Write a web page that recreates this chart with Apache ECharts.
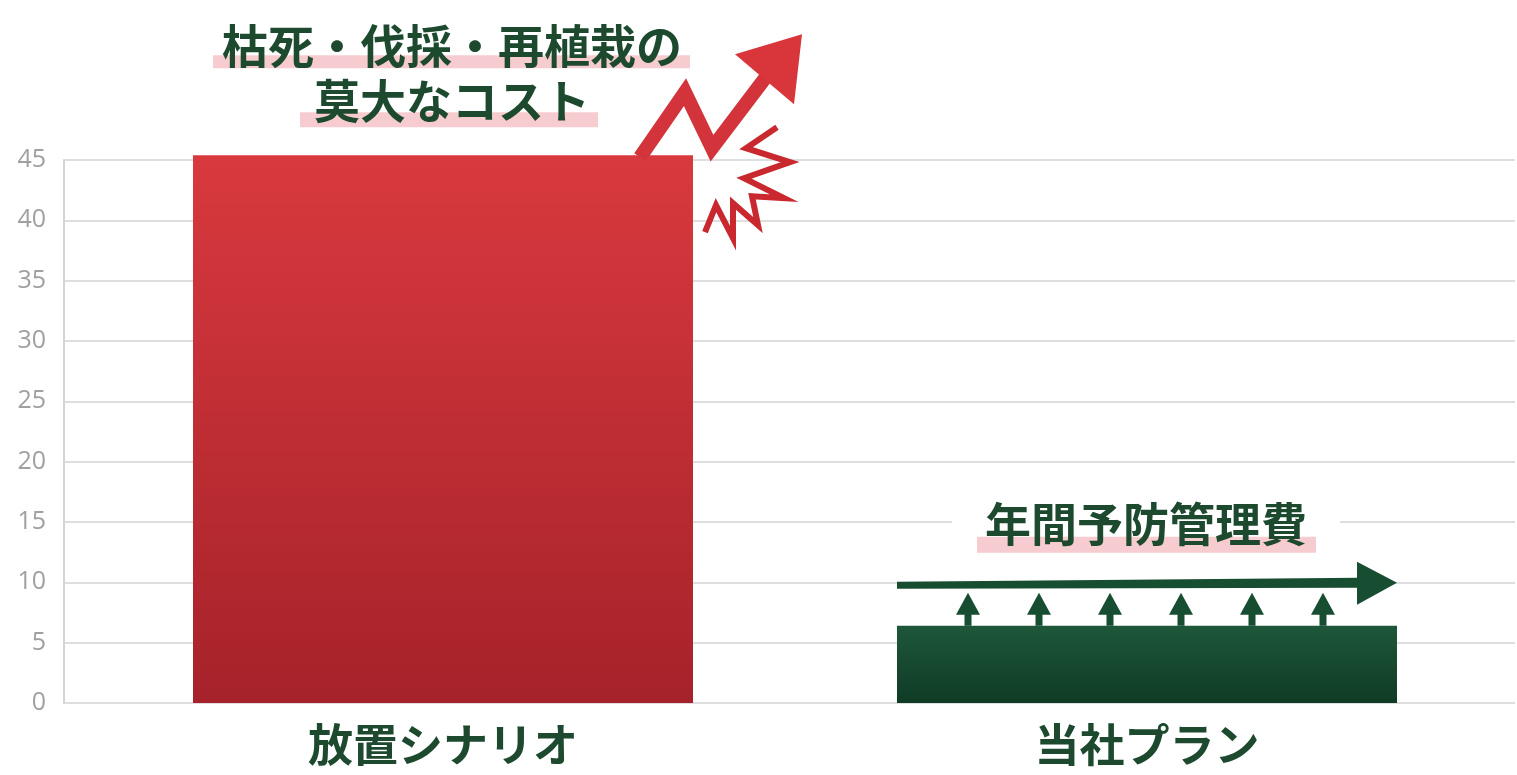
<!DOCTYPE html>
<html><head><meta charset="utf-8">
<script src="https://cdn.jsdelivr.net/npm/echarts@6/dist/echarts.min.js"></script>
<style>html,body{margin:0;padding:0;background:#fff}#c{width:1517px;height:775px}</style>
</head><body><div id="c"></div>
<script>
const categories = ['放置シナリオ', '当社プラン'];
const costValues = [45.4, 6.4];
const yTickLabels = ['0', '5', '10', '15', '20', '25', '30', '35', '40', '45'];
const topNoteLines = ['枯死・伐採・再植栽の', '莫大なコスト'];
const planNote = '年間予防管理費';

const GREEN_TEXT = '#1d4a2f';
const FONT = '"Noto Sans CJK JP", "Noto Sans", sans-serif';
const chart = echarts.init(document.getElementById('c'), null, {renderer: 'canvas'});

const redGrad = new echarts.graphic.LinearGradient(0, 0, 0, 1, [{offset: 0, color: '#d8393e'}, {offset: 1, color: '#a6222a'}]);
const greenGrad = new echarts.graphic.LinearGradient(0, 0, 0, 1, [{offset: 0, color: '#1e5739'}, {offset: 1, color: '#0f3b25'}]);

chart.setOption({
  animation: false,
  backgroundColor: '#fff',
  grid: [
    {left: 64, right: 2, top: 160, bottom: 72},
    {left: 91, width: 1408, top: 160, bottom: 72}
  ],
  xAxis: [
    {type: 'value', gridIndex: 0, show: false, min: 0, max: 1},
    {type: 'category', gridIndex: 1, data: categories,
     axisLine: {show: false}, axisTick: {show: false}, splitLine: {show: false},
     axisLabel: {fontSize: 45, fontWeight: 'bold', fontFamily: FONT, color: GREEN_TEXT, margin: 19}}
  ],
  yAxis: [
    {type: 'value', gridIndex: 0, min: 0, max: 45, interval: 5,
     axisLine: {show: true, lineStyle: {color: '#d4d4d4', width: 2}},
     axisTick: {show: false},
     splitLine: {show: true, lineStyle: {color: '#dedede', width: 2}},
     axisLabel: {color: '#a0a0a0', fontSize: 25, fontFamily: '"Open Sans", sans-serif', margin: 18,
       formatter: v => yTickLabels[Math.round(v / 5)] ?? ''}},
    {type: 'value', gridIndex: 1, min: 0, max: 45, interval: 5, show: false}
  ],
  series: [{
    type: 'bar', xAxisIndex: 1, yAxisIndex: 1, barWidth: 500, clip: false,
    data: costValues.map((v, i) => ({value: v, itemStyle: {color: i === 0 ? redGrad : greenGrad}}))
  }]
});

// anchors from data
const p1 = chart.convertToPixel({xAxisIndex: 1, yAxisIndex: 1}, [0, costValues[0]]);
const p2 = chart.convertToPixel({xAxisIndex: 1, yAxisIndex: 1}, [1, costValues[1]]);
const half = 250;
const A = [p1[0] + half, p1[1]]; // top-right of bar 1
const B = [p2[0] - half, p2[1]]; // top-left of bar 2
const rel = (o, pts) => pts.map(p => [o[0] + p[0], o[1] + p[1]]);

const g = [];
// highlight bands
g.push({type: 'rect', z: 50, shape: {x: p1[0] - 230, y: p1[1] - 100, width: 477, height: 13}, style: {fill: 'rgba(240,170,176,0.6)'}});
g.push({type: 'rect', z: 50, shape: {x: p1[0] - 143, y: p1[1] - 43, width: 298, height: 15}, style: {fill: 'rgba(240,170,176,0.6)'}});
// white knock-out behind plan note
g.push({type: 'rect', z: 49, shape: {x: p2[0] - 195, y: p2[1] - 118, width: 388, height: 36}, style: {fill: '#fff'}});
g.push({type: 'rect', z: 50, shape: {x: p2[0] - 170, y: p2[1] - 89, width: 339, height: 16}, style: {fill: 'rgba(240,170,176,0.6)'}});
// texts
topNoteLines.forEach((t, i) => {
  g.push({type: 'text', z: 60, style: {text: t, x: p1[0] + 9, y: p1[1] - 110 + i * 55, align: 'center', verticalAlign: 'middle',
    fontSize: 46, fontWeight: 'bold', fontFamily: FONT, fill: GREEN_TEXT}});
});
g.push({type: 'text', z: 60, style: {text: planNote, x: p2[0] - 1, y: p2[1] - 102, align: 'center', verticalAlign: 'middle',
  fontSize: 46, fontWeight: 'bold', fontFamily: FONT, fill: GREEN_TEXT}});

// red zigzag arrow
g.push({type: 'polyline', z: 55, shape: {points: rel(A, [[-53, 2], [-8, -63], [19, -7], [72, -77]])},
  style: {stroke: '#d3333a', lineWidth: 14, lineJoin: 'miter', fill: null}});
g.push({type: 'polygon', z: 55, shape: {points: rel(A, [[109, -121], [42, -101], [101, -51]])},
  style: {fill: '#d8363b'}});
// burst
g.push({type: 'polyline', z: 55, shape: {points: rel(A, [[84, -28], [53, -7], [97, 7], [51, 23], [91, 43], [59, 41], [65, 70], [40, 48], [40, 83], [23, 50], [12, 77]])},
  style: {stroke: '#c9282f', lineWidth: 6, lineJoin: 'miter', fill: null}});

// green long arrow
g.push({type: 'polygon', z: 55, shape: {points: rel(B, [[0, -44], [463, -48], [463, -38], [0, -37]])}, style: {fill: '#174d30'}});
g.push({type: 'polygon', z: 55, shape: {points: rel(B, [[460, -64], [500, -43], [460, -21]])}, style: {fill: '#174d30'}});
// small up arrows
for (let i = 1; i <= 6; i++) {
  const cx = B[0] + 71 * i;
  g.push({type: 'rect', z: 55, shape: {x: cx - 3.5, y: B[1] - 12, width: 7, height: 12}, style: {fill: '#174d30'}});
  g.push({type: 'polygon', z: 55, shape: {points: [[cx - 12, B[1] - 11], [cx, B[1] - 33], [cx + 12, B[1] - 11]]}, style: {fill: '#174d30'}});
}
chart.setOption({graphic: g});
</script>
</body></html>
